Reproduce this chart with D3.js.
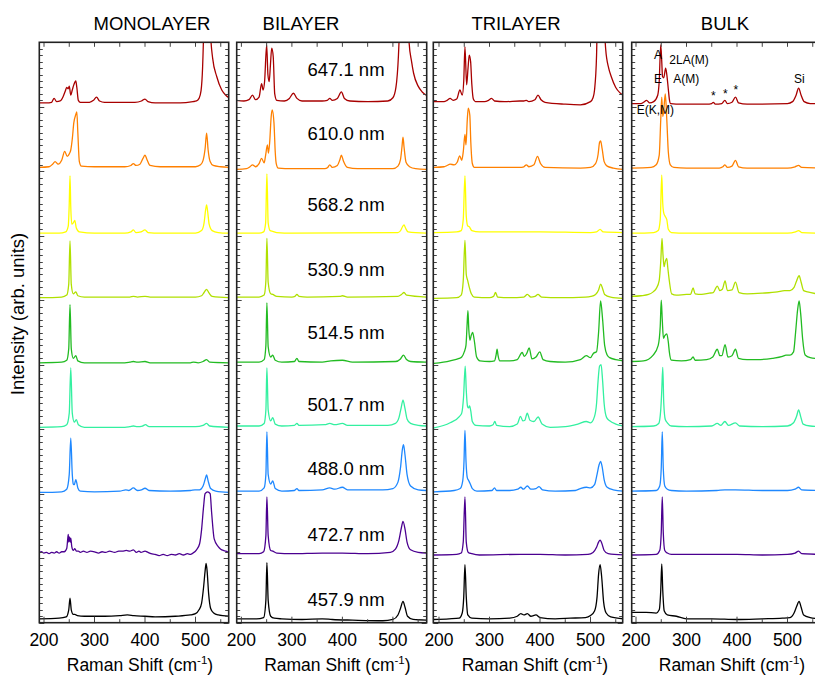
<!DOCTYPE html>
<html><head><meta charset="utf-8">
<script src="https://cdn.jsdelivr.net/npm/d3@7/dist/d3.min.js"></script>
<style>body{margin:0;background:#fff;overflow:hidden} text{font-family:"Liberation Sans",Arial,sans-serif;fill:#000}</style>
</head><body><svg id="c" width="815" height="675"></svg>
<script>
// ---------- labels ----------
const panelTitles = ["MONOLAYER", "BILAYER", "TRILAYER", "BULK"];
const laserLines = ["647.1 nm", "610.0 nm", "568.2 nm", "530.9 nm", "514.5 nm", "501.7 nm", "488.0 nm", "472.7 nm", "457.9 nm"];
const lineColors = ["#a80000", "#ff8000", "#ffff00", "#b0e000", "#22bb22", "#33f0a0", "#1e88ff", "#4b0090", "#000000"];
const xTickLabels = [200, 300, 400, 500];
const xMinorTicks = [250, 350, 450, 550];
const bulkModes = ["A", "2LA(M)", "E", "A(M)", "E(K,M)", "*", "*", "*", "Si"];

// ---------- MONOLAYER spectra [Raman shift, intensity] ----------
const mono647 = [[190,6],[205,6],[215,7],[220,13],[225,8],[232,9],[238,16],[242,24],[245,30],[248,28],[250,32],[253,18],[256,26],[259,34],[263,40],[265,30],[268,10],[272,7],[290,7],[298,10],[304,15],[310,9],[320,7],[380,7],[393,9],[400,12],[406,8],[420,6],[470,6],[495,8],[502,9],[507,13],[511,25],[514,60],[517,150],[521,400],[526,200],[530,110],[534,75],[542,47],[552,26],[560,18],[566,14]];
const mono610 = [[190,6],[210,7],[217,11],[222,15],[228,11],[235,17],[241,31],[246,23],[250,27],[253,33],[256,50],[259,75],[263,88],[265,92],[267,60],[270,15],[274,8],[300,7],[360,7],[372,9],[377,12],[382,9],[390,11],[396,20],[400,25],[404,18],[410,9],[430,7],[500,7],[510,10],[515,17],[519,35],[522,59],[525,33],[529,15],[535,9],[550,7],[566,6]];
const mono568 = [[190,4],[230,4],[243,6],[248,15],[250,50],[251.5,93],[253,45],[255,18],[258,20],[261,24],[264,12],[270,6],[300,4],[360,4],[372,6],[377,9],[382,5],[392,6],[400,9],[406,5],[430,4],[500,4],[512,8],[517,20],[520,40],[522,48],[524,38],[527,18],[533,8],[545,5],[566,4]];
const mono531 = [[190,4],[235,5],[245,8],[249,25],[251.5,92],[254,25],[258,10],[263,13],[267,7],[280,5],[370,5],[377,6],[385,5],[400,6],[410,5],[500,5],[512,7],[517,12],[522,17],[527,11],[533,6],[566,4]];
const mono514 = [[190,3],[235,4],[245,7],[249,25],[251.5,93],[254,25],[258,10],[263,14],[267,6],[280,3],[360,3],[370,4],[377,5],[385,4],[400,5],[410,3],[490,3],[496,4],[505,3],[515,5],[522,8],[528,4],[566,3]];
const mono502 = [[190,3],[235,4],[245,7],[250,25],[253,95],[256,25],[260,11],[264,15],[268,7],[280,3],[360,3],[370,4],[377,5],[385,4],[395,5],[401,7],[408,4],[500,4],[515,6],[522,9],[528,5],[566,3]];
const mono488 = [[190,2],[235,3],[245,7],[250,30],[253,86],[256,30],[258,15],[260,14],[263,22],[267,9],[272,4],[300,3],[350,4],[362,6],[368,5],[377,9],[385,5],[393,6],[400,8.5],[408,5],[450,4],[490,5],[499,6],[508,6],[515,12],[519,22],[522,29],[525,20],[530,8],[540,4],[566,2]];
const mono473 = [[190,8],[195,10],[200,8],[205,9],[210,7],[215,9],[220,8],[225,10],[230,8],[235,10],[240,10],[245,15],[247,30],[248,37],[249,25],[250.5,33],[252,25],[253,31],[255,18],[258,12],[261,15],[264,11],[268,11],[272,9],[278,11],[285,9],[292,11],[300,10],[308,8],[315,10],[322,9],[330,11],[340,9],[348,11],[355,11],[363,12],[370,11],[377,13],[383,9],[388,11],[392,9],[400,11],[406,9],[412,7],[420,6],[428,4],[436,6],[444,4],[452,6],[460,5],[468,7],[476,5],[484,7],[490,6],[495,8],[502,13],[508,22],[512,44],[516,80],[519,100],[524,103],[529,100],[532,70],[537,30],[545,18],[550,14],[555,12],[560,11],[566,9]];
const mono458 = [[190,6],[230,7],[244,9],[249,20],[251.5,38],[254,20],[258,13],[261,13],[266,11],[280,10],[320,10],[350,11],[365,12],[378,11],[400,10],[420,9],[460,10],[490,12],[500,14],[507,20],[512,30],[516,55],[519,80],[521,92],[523,80],[526,45],[530,22],[536,15],[545,12],[566,10]];

// ---------- BILAYER ----------
const bi647 = [[190,10],[205,9],[215,11],[222,18],[228,11],[235,15],[240,36],[243,26],[246,40],[250,96],[252.5,50],[255,39],[257.5,65],[260,91],[263,78],[266,20],[270,10],[285,9],[295,13],[303,21],[310,13],[320,9],[360,9],[370,10],[375,13],[380,10],[390,13],[398,23],[404,13],[415,9],[450,8],[490,9],[500,14],[506,30],[511,80],[516,200],[521,400],[527,200],[532,100],[537,70],[541,52],[550,32],[558,23],[566,18]];
const bi610 = [[190,3],[210,4],[217,7],[222,10],[228,7],[235,12],[240,20],[245,13],[248,25],[251.5,41],[253.5,28],[256,45],[259,85],[261,95],[264.5,75],[267,30],[269,12],[273,5],[300,4],[365,4],[371,6],[375,10],[380,6],[390,9],[395,18],[398,25],[402,16],[410,6],[430,4],[500,4],[510,8],[515,18],[518,38],[520,53],[522,38],[526,14],[533,7],[545,4],[566,3]];
const bi568 = [[190,4],[235,4],[244,6],[248,20],[250.5,96],[253,20],[257,8],[262,7],[270,5],[300,4],[510,5],[516,9],[519,14],[522,17],[525,12],[530,6],[566,4]];
const bi531 = [[190,5],[235,5],[245,8],[248.5,30],[250.5,96],[253,28],[258,10],[262,9],[270,6],[300,5],[306,6],[310,9],[314,6],[330,5],[395,6],[400,7],[410,5],[510,6],[517,9],[522,12],[527,8],[566,5]];
const bi514 = [[190,4],[235,4],[245,8],[248.5,30],[250.5,96],[253,28],[258,12],[262,15],[267,7],[280,4],[305,5],[310,10],[314,5],[360,4],[377,6],[400,7],[420,4],[505,5],[515,9],[521,15],[527,8],[535,5],[566,4]];
const bi502 = [[190,5],[235,5],[245,9],[248.5,30],[250.5,95],[253,30],[258,13],[262,18],[267,8],[280,5],[305,6],[310,9],[314,6],[365,7],[375,9],[385,7],[400,9],[410,6],[490,6],[505,9],[512,18],[516,32],[520,45],[524,32],[528,16],[535,9],[550,6],[566,5]];
const bi488 = [[190,4],[235,4],[245,9],[248.5,30],[250.5,96],[253,30],[258,15],[262,20],[267,8],[280,4],[305,5],[310,8],[314,5],[360,6],[375,9],[385,7],[400,10],[410,6],[480,6],[500,8],[510,18],[515,40],[519,70],[521,76],[524,60],[528,30],[535,12],[550,6],[566,5]];
const bi473 = [[190,7],[235,7],[244,10],[248.5,35],[250.5,95],[253,35],[258,12],[262,11],[270,8],[300,7],[360,8],[380,8],[400,8],[450,7],[495,9],[505,14],[512,28],[517,48],[520,57],[524,45],[528,25],[535,13],[550,9],[566,8]];
const bi458 = [[190,6],[230,6],[244,8],[248.5,35],[250.5,93],[253,35],[258,10],[265,7],[280,6],[320,5],[360,6],[380,5],[420,4],[480,3],[500,5],[510,12],[515,22],[520,33],[524,24],[529,10],[540,5],[566,4]];

// ---------- TRILAYER ----------
const tri647 = [[190,8],[210,8],[216,10],[222,13],[228,10],[235,12],[241.5,26],[246,18],[249,40],[251.4,93],[254.7,34],[257.5,60],[259.9,80],[262.6,70],[265,35],[268,12],[272,8],[290,8],[298,10],[304,13],[310,9],[330,8],[360,9],[368,9],[373,10],[378,8],[390,11],[396,18],[402,11],[410,7],[450,4],[480,3],[500,8],[505,14],[508,26],[512,80],[518,400],[524,200],[530,90],[536,60],[541,47],[550,30],[558,22],[566,17]];
const tri610 = [[190,6],[210,7],[216,9],[222,11],[230,10],[236,14],[241,24],[245,17],[248,30],[251.4,57],[253.4,41],[256,80],[258,98],[261,87],[263,45],[266,12],[270,6],[300,6],[360,6],[368,7],[373,10],[378,7],[388,10],[395,23],[401,12],[410,6],[480,5],[500,6],[510,12],[515,26],[518,45],[520,47],[523,35],[527,15],[533,8],[545,5],[566,3]];
const tri568 = [[190,5],[235,6],[244,8],[248,25],[251.4,93],[254,30],[257,15],[260,14],[265,8],[280,6],[400,6],[500,5],[512,6],[519,10],[525,6],[566,5]];
const tri531 = [[190,3],[235,4],[244,8],[248,30],[251.4,93],[254,40],[257,30],[260,20],[264,10],[270,5],[300,4],[308,6],[312,12],[316,5],[340,4],[368,5],[375,9],[382,5],[390,6],[396,9],[403,5],[440,4],[490,5],[501,6],[510,9],[516,16],[520,25],[524,18],[528,9],[540,5],[566,3]];
const tri514 = [[190,2],[222,6],[240,10],[245,12],[250,20],[253.4,30],[255.5,60],[257.3,84],[259,55],[261.3,38],[264,46],[266.6,50],[269.8,38],[274.5,12],[281,6],[300,5],[310,6],[313,15],[315,24],[317,14],[320,6],[340,6],[355,8],[364.7,19],[369,13],[374,18],[378.6,26],[384,9],[392,12],[399.6,20],[406,8],[420,5],[450,4],[480,8],[491.8,14],[500,11],[506,18],[512,20],[516,50],[520,99],[524,70],[528,30],[533,15],[538,11],[550,8],[566,6]];
const tri502 = [[190,2],[222,10],[240.7,20],[245,25],[248.6,50],[251.9,98],[254,60],[256.6,35],[258.5,33],[260.5,36],[263,28],[266,12],[273,6],[300,5],[307,7],[310.5,12],[314,6],[340,4],[355,8],[361.4,20],[366,13],[370,14],[374.7,25],[380,14],[388,12],[396.3,19],[404,8],[420,3],[450,4],[475,8],[491.8,12],[500,10],[508,20],[512,40],[515,75],[518,98],[521,100],[524,75],[527,40],[532,18],[538,13],[550,8],[566,5]];
const tri488 = [[190,3],[230,5],[242,8],[247,20],[249.5,50],[251.4,98],[253.5,50],[256,25],[259,20],[262,15],[266,8],[275,4],[305,5],[310,9],[314,5],[340,5],[356,7],[362,10],[367,7],[375,12],[382,7],[392,8],[398,11],[405,6],[430,4],[470,5],[480,8],[492,10],[500,9],[508,14],[513,30],[517,45],[520,50],[523,42],[527,22],[533,10],[545,6],[566,4]];
const tri473 = [[190,5],[235,6],[244,8],[248,25],[251.4,95],[254,25],[258,9],[265,7],[280,5],[360,6],[380,6],[400,6],[450,5],[495,6],[505,9],[512,17],[516,25],[519,28],[522,24],[527,12],[535,7],[566,5]];
const tri458 = [[190,5],[220,6],[240,7],[246,15],[249,40],[251.4,90],[254,40],[257,12],[265,7],[300,6],[340,7],[355,10],[362,14],[368,12],[375,14],[382,10],[392,12],[400,8],[430,6],[460,7],[490,8],[500,11],[508,18],[513,40],[516,75],[519,90],[522,72],[526,32],[531,15],[540,9],[566,6]];

// ---------- BULK ----------
const bulk647 = [[190,5],[210,5],[215,7],[221,10],[227,6],[235,8],[243,18],[246,40],[249,96],[251,70],[252.5,47],[255,45],[258.7,60],[261,50],[263.9,28],[266,12],[268.6,5],[290,4],[340,4],[350,5],[353,7],[357,4],[370,5],[376,10],[381,5],[390,7],[397,15],[403,6],[420,4],[500,5],[510,8],[517,18],[522,29],[527,18],[533,8],[545,5],[566,5]];
const bulk610 = [[190,5],[230,6],[240,10],[246,25],[249,80],[251,115],[253,85],[255,95],[258,120],[261,80],[264,30],[268,10],[275,6],[300,5],[365,5],[372,7],[376,10],[381,6],[390,8],[397,17],[403,7],[420,5],[500,5],[515,7],[522,9],[528,6],[566,5]];
const bulk568 = [[190,4],[235,5],[244,8],[248,25],[251,94],[253,50],[255,35],[258,30],[261,25],[264,10],[270,5],[300,4],[500,4],[516,6],[522,8],[528,5],[566,4]];
const bulk531 = [[190,6],[210,7],[225,9],[234,13],[240,18],[246,31],[249,60],[251.5,96],[253.5,70],[255.6,52],[258,60],[260.9,65],[263,50],[266,30],[270.6,10],[280,8],[300,9],[308,9],[313,19],[317,10],[330,9],[345,11],[353,12],[361,22],[366,15],[371,17],[376.4,30],[381,15],[390,16],[397,28],[404,12],[420,10],[450,11],[480,13],[494,15],[505,15],[513,20],[518,30],[523,38],[527,28],[532,15],[540,13],[566,9]];
const bulk514 = [[190,5],[215,6],[234,15],[244,30],[248,60],[250,100],[252,70],[254.3,41],[257,45],[261,48],[264,35],[266,20],[270,7],[290,6],[308,8],[313,12],[317,7],[340,8],[352,12],[361,24],[366,14],[370,14],[376.4,31],[382,12],[390,14],[397,24],[403,10],[420,8],[440,8],[470,10],[490,13],[497,15],[505,15],[512,20],[516,50],[520,85],[523,99],[526,80],[530,40],[535,15],[545,11],[566,9]];
const bulk502 = [[190,4],[235,5],[245,9],[249,30],[251,60],[253,96],[255,40],[258,15],[262,10],[270,5],[300,4],[350,5],[361,9],[368,6],[376,12],[383,6],[397,10],[405,5],[450,4],[500,5],[512,10],[518,20],[522,30],[526,20],[531,8],[545,5],[566,4]];
const bulk488 = [[190,4],[240,5],[247,12],[250,40],[252,96],[254,40],[257,12],[262,7],[270,5],[300,4],[360,5],[376,6],[397,6],[450,5],[500,5],[515,7],[522,10],[528,6],[566,5]];
const bulk473 = [[190,5],[240,6],[247,12],[250,40],[252,95],[254,40],[257,12],[262,8],[270,6],[300,6],[360,6],[400,6],[450,5],[500,6],[515,8],[522,11],[528,7],[566,6]];
const bulk458 = [[190,16],[220,16],[240,15],[246,20],[249,50],[251,91],[253,50],[256,18],[262,12],[280,10],[300,6],[350,6],[400,5],[450,6],[490,7],[505,8],[513,15],[518,25],[523,33],[527,24],[532,12],[545,8],[566,6]];

const panelSeries = [
  [mono647, mono610, mono568, mono531, mono514, mono502, mono488, mono473, mono458],
  [bi647, bi610, bi568, bi531, bi514, bi502, bi488, bi473, bi458],
  [tri647, tri610, tri568, tri531, tri514, tri502, tri488, tri473, tri458],
  [bulk647, bulk610, bulk568, bulk531, bulk514, bulk502, bulk488, bulk473, bulk458]
];

// ---------- layout ----------
const svg = d3.select("#c");
const frameL = [39.3, 236.7, 433.3, 631.7];
const frameR = [228.7, 426.7, 622.7, 821];
const x200 = [44, 241.4, 439, 636];
const pxPerUnit = 0.505;
const plotTop = 42.3, plotBottom = 622.7;
const nSlots = 9;
const slotH = (plotBottom - plotTop) / nSlots;

const defs = svg.append("defs");

panelSeries.forEach((series, p) => {
  const x = d3.scaleLinear().domain([200, 500]).range([x200[p], x200[p] + 300 * pxPerUnit]);
  const g = svg.append("g");
  defs.append("clipPath").attr("id", "clip" + p).append("rect")
    .attr("x", frameL[p]).attr("y", plotTop).attr("width", frameR[p] - frameL[p]).attr("height", plotBottom - plotTop);

  const lines = g.append("g").attr("clip-path", `url(#clip${p})`);
  series.forEach((data, k) => {
    const y = d3.scaleLinear().domain([0, 100]).range([plotTop + (k + 1) * slotH, plotTop + k * slotH]);
    const line = d3.line().x(d => x(d[0])).y(d => y(d[1])).curve(d3.curveMonotoneX);
    lines.append("path").datum(data).attr("d", line)
      .attr("fill", "none").attr("stroke", lineColors[k]).attr("stroke-width", 1.3)
      .attr("stroke-linejoin", "round");
  });

  const tk = g.append("g").attr("stroke", "#444").attr("stroke-width", 1);
  for (let k = 0; k < nSlots; k++) {
    const y = d3.scaleLinear().domain([0, 100]).range([plotTop + (k + 1) * slotH, plotTop + k * slotH]);
    d3.range(0, 100, 10).forEach(v => {
      const yy = Math.round(y(v)) + 0.5;
      const len = v === 0 ? 5 : 3.5;
      tk.append("line").attr("x1", frameL[p]).attr("x2", frameL[p] + len).attr("y1", yy).attr("y2", yy);
      tk.append("line").attr("x1", frameR[p]).attr("x2", frameR[p] - len).attr("y1", yy).attr("y2", yy);
    });
  }
  d3.range(200, 566, 50).forEach(v => {
    tk.append("line").attr("x1", x(v)).attr("x2", x(v)).attr("y1", plotTop).attr("y2", plotTop + 4.5);
  });
  xTickLabels.forEach(v => {
    tk.append("line").attr("x1", x(v)).attr("x2", x(v)).attr("y1", plotBottom).attr("y2", plotBottom - 6);
  });
  xMinorTicks.forEach(v => {
    tk.append("line").attr("x1", x(v)).attr("x2", x(v)).attr("y1", plotBottom).attr("y2", plotBottom - 3.5);
  });

  g.append("rect").attr("x", frameL[p]).attr("y", plotTop).attr("width", frameR[p] - frameL[p]).attr("height", plotBottom - plotTop)
    .attr("fill", "none").attr("stroke", "#222").attr("stroke-width", 1.6);

  xTickLabels.forEach(v => {
    g.append("text").attr("x", x(v)).attr("y", 646).attr("text-anchor", "middle")
      .attr("font-size", 17.5).text(v);
  });
  const at = g.append("text").attr("x", x(390)).attr("y", 671).attr("text-anchor", "middle").attr("font-size", 17.5);
  at.append("tspan").text("Raman Shift (cm");
  at.append("tspan").attr("dy", -7).attr("font-size", 11.5).text("-1");
  at.append("tspan").attr("dy", 7).text(")");
});

const titleX = [152, 301, 516, 725];
panelTitles.forEach((t, p) => {
  svg.append("text").attr("x", titleX[p]).attr("y", 30).attr("text-anchor", "middle")
    .attr("font-size", 18.5).text(t);
});

const laserBase = [75.7, 140, 211, 276, 339, 411, 475, 541, 606];
laserLines.forEach((t, k) => {
  svg.append("text").attr("x", 346).attr("y", laserBase[k]).attr("text-anchor", "middle")
    .attr("font-size", 18.5).text(t);
});

svg.append("text").attr("transform", "translate(24,314) rotate(-90)").attr("text-anchor", "middle")
  .attr("font-size", 18.5).text("Intensity (arb. units)");

const annX = [654, 669.3, 654, 673.3, 636.7, 711, 723, 733.5, 794];
const annY = [59.3, 64.3, 83.3, 83.3, 113.5, 100, 98, 94, 83.3];
bulkModes.forEach((t, i) => {
  svg.append("text").attr("x", annX[i]).attr("y", annY[i]).attr("font-size", 12).text(t);
});
</script></body></html>
